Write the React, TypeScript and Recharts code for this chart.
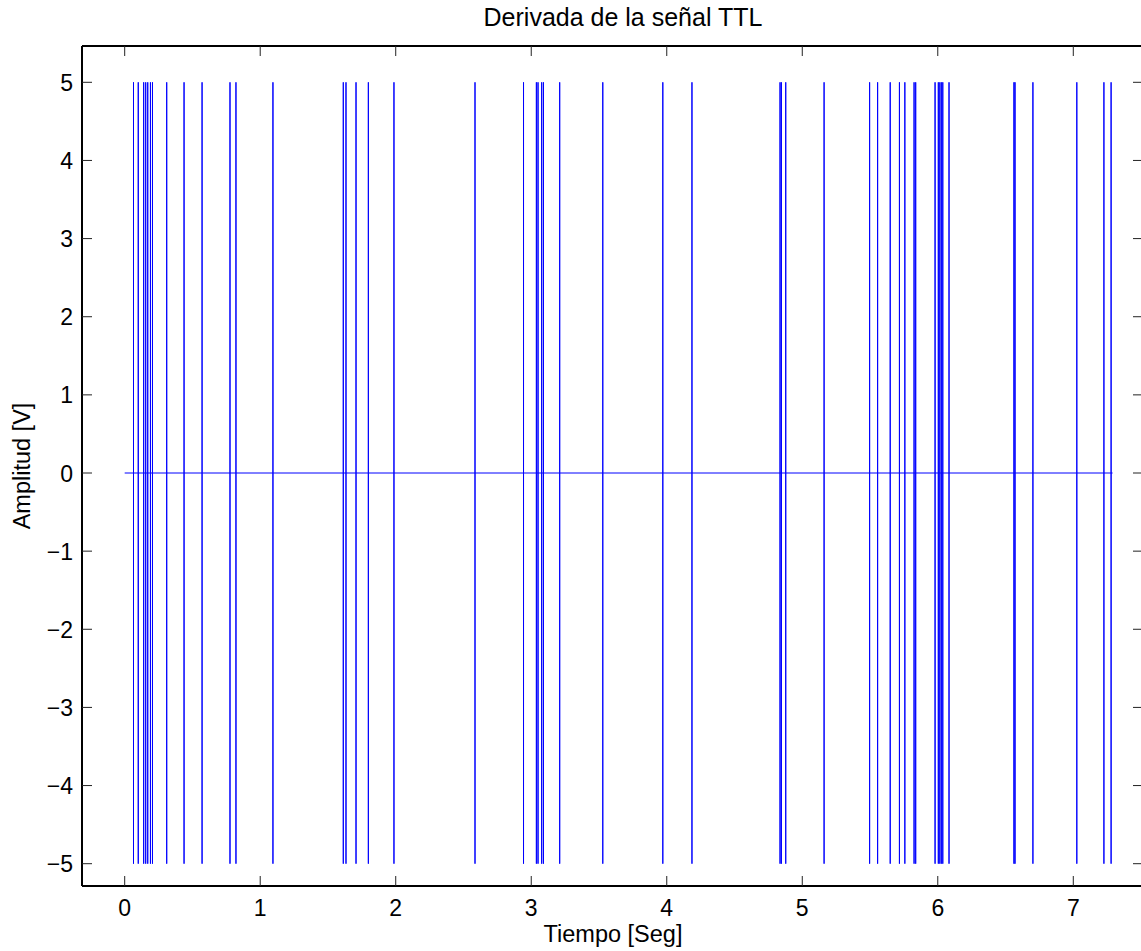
import React from 'react';
import { ComposedChart, Line, XAxis, YAxis } from 'recharts';

// instantes (s) de cada pulso de la derivada
const spikeTimes = [
  0.065, 0.1, 0.14, 0.155, 0.17, 0.19, 0.205, 0.31, 0.438, 0.571, 0.777, 0.821,
  1.094, 1.613, 1.633, 1.707, 1.798, 1.987, 2.585, 2.943, 3.038, 3.05, 3.077, 3.09,
  3.21, 3.528, 3.971, 4.186, 4.836, 4.846, 4.878, 5.161, 5.497, 5.556, 5.649, 5.717,
  5.757, 5.825, 5.837, 5.98, 6.004, 6.015, 6.026, 6.037, 6.083, 6.562, 6.57, 6.702,
  7.026, 7.226, 7.279,
];
const pulseHigh = 5;
const pulseLow = -5;
const tStart = 0;
const tEnd = 7.29;

const xTicks = [0, 1, 2, 3, 4, 5, 6, 7];
const yTicks = [-5, -4, -3, -2, -1, 0, 1, 2, 3, 4, 5];

const FONT = '"Liberation Sans", Arial, Helvetica, sans-serif';
const PLOT = { left: 82, top: 46, right: 1142, bottom: 886 };

// señal: 0 -> +5 -> -5 -> 0 en cada flanco
const signal: { t: number; v: number }[] = [{ t: tStart, v: 0 }];
spikeTimes.forEach((t) => {
  signal.push({ t, v: 0 }, { t, v: pulseHigh }, { t, v: pulseLow }, { t, v: 0 });
});
signal.push({ t: tEnd, v: 0 });

const fmt = (v: number) => (v < 0 ? '\u2212' + Math.abs(v) : String(v));

const BottomTick = (props: any) => {
  const { x, payload } = props;
  return (
    <g>
      <line x1={x} x2={x} y1={PLOT.bottom} y2={PLOT.bottom - 10} stroke="#222" />
      <text x={x} y={PLOT.bottom + 30} textAnchor="middle" fontSize={23} fontFamily={FONT} fill="#000">
        {fmt(payload.value)}
      </text>
    </g>
  );
};

const TopTick = (props: any) => {
  const { x } = props;
  return <line x1={x} x2={x} y1={PLOT.top} y2={PLOT.top + 10} stroke="#222" />;
};

const LeftTick = (props: any) => {
  const { y, payload } = props;
  return (
    <g>
      <line x1={PLOT.left} x2={PLOT.left + 10} y1={y} y2={y} stroke="#222" />
      <text x={PLOT.left - 9} y={y + 8.5} textAnchor="end" fontSize={23} fontFamily={FONT} fill="#000">
        {fmt(payload.value)}
      </text>
    </g>
  );
};

const RightTick = (props: any) => {
  const { y } = props;
  return <line x1={PLOT.right} x2={PLOT.right - 9} y1={y} y2={y} stroke="#222" />;
};

const App: React.FC = () => {
  return (
    <div style={{ position: 'absolute', left: 0, top: 0, width: 1141, height: 951, overflow: 'hidden', background: '#fff' }}>
      <div
        style={{ position: 'absolute', left: 0, width: 1246, top: 3, textAlign: 'center', fontFamily: FONT, fontSize: 25 }}
      >
        Derivada de la señal TTL
      </div>
      <div
        style={{ position: 'absolute', left: 0, width: 1226, top: 921, textAlign: 'center', fontFamily: FONT, fontSize: 23.5 }}
      >
        Tiempo [Seg]
      </div>
      <div
        style={{
          position: 'absolute', left: 22, top: 466, fontFamily: FONT, fontSize: 23.5, whiteSpace: 'nowrap',
          transform: 'translate(-50%, -50%) rotate(-90deg)',
        }}
      >
        Amplitud [V]
      </div>
      <div style={{ position: 'absolute', left: 0, top: 0 }}>
        <ComposedChart
          width={1152}
          height={951}
          data={signal}
          margin={{ top: PLOT.top - 10, right: 0, bottom: 951 - PLOT.bottom - 30, left: PLOT.left - 40 }}
        >
          <XAxis
            dataKey="t"
            type="number"
            domain={[-0.3151, 7.507]}
            ticks={xTicks}
            allowDataOverflow
            height={30}
            tickLine={false}
            tick={<BottomTick />}
            axisLine={{ stroke: '#000', strokeWidth: 2 }}
          />
          <XAxis
            xAxisId="top"
            orientation="top"
            dataKey="t"
            type="number"
            domain={[-0.3151, 7.507]}
            ticks={xTicks}
            allowDataOverflow
            height={10}
            tickLine={false}
            tick={<TopTick />}
            axisLine={{ stroke: '#000', strokeWidth: 2 }}
          />
          <YAxis
            type="number"
            domain={[-5.2854, 5.4646]}
            ticks={yTicks}
            allowDataOverflow
            width={40}
            tickLine={false}
            tick={<LeftTick />}
            axisLine={{ stroke: '#000', strokeWidth: 2 }}
          />
          <YAxis
            yAxisId="right"
            orientation="right"
            type="number"
            domain={[-5.2854, 5.4646]}
            ticks={yTicks}
            allowDataOverflow
            width={10}
            tickLine={false}
            tick={<RightTick />}
            axisLine={false}
          />
          <Line
            dataKey="v"
            type="linear"
            stroke="#0000ff"
            strokeWidth={1}
            dot={false}
            activeDot={false}
            isAnimationActive={false}
          />
        </ComposedChart>
      </div>
    </div>
  );
};

export default App;
